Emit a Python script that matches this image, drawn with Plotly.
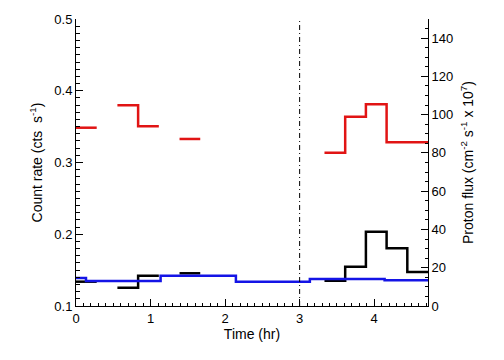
import plotly.graph_objects as go

# ---- data ----
bin_width = 1000 / 3600.0  # hr
rate_bins = [0, 2, 3, 5, 12, 13, 14, 15, 16]
red_rate = [0.3485, 0.3797, 0.3505, 0.3328, 0.3137, 0.3638, 0.3811, 0.3282, 0.3282]
black_rate = [0.1339, 0.1255, 0.1422, 0.1456, 0.1353, 0.1548, 0.2036, 0.1804, 0.1474]

blue_edges = [0.0, 0.134, 1.135, 2.145, 3.137, 4.14, 4.722]
blue_flux = [14.6, 13.1, 15.8, 12.7, 14.1, 13.4]

x_ticks = [0, 1, 2, 3, 4]
x_range = [0, 4.722]
divider_time = 3.0


def step_xy(lefts, rights, vals):
    xs, ys = [], []
    n = len(vals)
    for i in range(n):
        xs.append(lefts[i]); ys.append(vals[i])
        contiguous = i + 1 < n and abs(lefts[i + 1] - rights[i]) < 1e-9
        if not contiguous:
            xs.append(rights[i]); ys.append(vals[i])
            xs.append(None); ys.append(None)
    return xs, ys


lefts = [b * bin_width for b in rate_bins]
rights = [(b + 1) * bin_width for b in rate_bins]
rx, ry = step_xy(lefts, rights, red_rate)
kx, ky = step_xy(lefts, rights, black_rate)
bx, by = step_xy(blue_edges[:-1], blue_edges[1:], blue_flux)

fig = go.Figure()
fig.add_trace(go.Scatter(x=rx, y=ry, mode="lines", line=dict(color="rgb(225,20,20)", width=2.5, shape="hv"),
                         connectgaps=False, showlegend=False))
fig.add_trace(go.Scatter(x=kx, y=ky, mode="lines", line=dict(color="black", width=2.5, shape="hv"),
                         connectgaps=False, showlegend=False))
fig.add_trace(go.Scatter(x=bx, y=by, mode="lines", line=dict(color="rgb(20,20,230)", width=2.5, shape="hv"),
                         connectgaps=False, showlegend=False, yaxis="y2"))

fig.add_shape(type="line", xref="x", yref="paper", x0=divider_time, x1=divider_time, y0=0, y1=1,
              line=dict(color="black", width=1, dash="5px,3px,1px,3px"))

font = dict(family="Liberation Sans, Arial, Helvetica, sans-serif", size=13, color="black")
minor_common = dict(ticks="inside", ticklen=3.5, tickcolor="black", showgrid=False)

fig.update_layout(
    width=488, height=344,
    margin=dict(l=68, r=68, t=11, b=46),
    paper_bgcolor="white", plot_bgcolor="white",
    font=font,
    xaxis=dict(range=x_range, tickvals=x_ticks, ticks="inside", ticklen=7, tickcolor="black", automargin=False,
               showline=True, linecolor="black", linewidth=1, showgrid=False, zeroline=False,
               minor=dict(dtick=0.1, **minor_common),
               title=dict(text="Time (hr)", font=dict(size=14), standoff=4)),
    xaxis2=dict(range=x_range, overlaying="x", side="top", anchor="y", tickvals=x_ticks, ticks="inside", ticklen=7,
                tickcolor="black", showticklabels=False, automargin=False,
                showline=True, linecolor="black", linewidth=1, showgrid=False, zeroline=False,
                minor=dict(dtick=0.1, **minor_common)),
    yaxis=dict(range=[0.1, 0.5], dtick=0.1, tick0=0.1, tickformat=".1f", ticks="inside", ticklen=7, tickcolor="black",
               showline=True, linecolor="black", linewidth=1, showgrid=False, zeroline=False, automargin=False,
               minor=dict(dtick=0.01, **minor_common),
               title=dict(text="Count rate (cts  s<sup>-1</sup>)", font=dict(size=14), standoff=8)),
    yaxis2=dict(range=[0, 150], dtick=20, tick0=0, overlaying="y", side="right", ticks="inside", ticklen=7,
                tickcolor="black", showline=True, linecolor="black", linewidth=1, showgrid=False, zeroline=False,
                automargin=False,
                minor=dict(dtick=5, **minor_common),
                title=dict(text="Proton flux (cm<sup>-2</sup> s<sup>-1</sup> x 10<sup>7</sup>)", font=dict(size=14), standoff=10)),
)

fig.write_html("out.html")
